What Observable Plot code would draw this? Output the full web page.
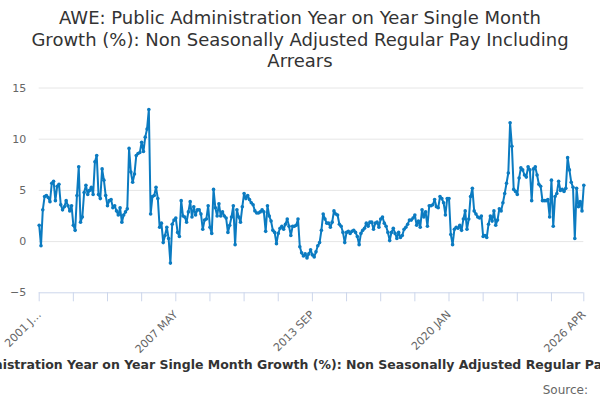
<!DOCTYPE html>
<html><head><meta charset="utf-8">
<script src="https://cdn.jsdelivr.net/npm/d3@7"></script>
<script src="https://cdn.jsdelivr.net/npm/@observablehq/plot@0.6"></script>
<style>
html,body{margin:0;padding:0;background:#fff}
body{width:600px;height:400px;overflow:hidden;position:relative;font-family:"DejaVu Sans",Verdana,sans-serif}
#title{position:absolute;top:7px;left:0;width:600px;text-align:center;font-size:18px;color:#333;line-height:21.5px}
#chart{position:absolute;top:70px;left:0}
#caption{position:absolute;top:357px;left:303px;transform:translateX(-50%);white-space:nowrap;font-weight:bold;font-size:12.5px;color:#333}
#source{position:absolute;top:383px;right:12px;font-size:12px;color:#666}
</style></head>
<body>
<div id="title"></div>
<div id="chart"></div>
<div id="caption"></div>
<div id="source"></div>
<script>
const titleLines = ["AWE: Public Administration Year on Year Single Month", "Growth (%): Non Seasonally Adjusted Regular Pay Including", "Arrears"];
const captionText = "AWE: Public Administration Year on Year Single Month Growth (%): Non Seasonally Adjusted Regular Pay Including Arrears";
const sourceText = "Source:";

// monthly values, 2001 Jan .. 2026 Apr (index 0..303)
const values = [
  1.6, -0.4, 3.1, 4.4, 4.5, 4.3, 3.9, 5.7, 5.9, 4.0,
  5.4, 5.6, 3.6, 3.1, 3.4, 4.0, 3.5, 3.0, 3.5, 1.6,
  1.1, 4.5, 7.3, 1.9, 2.4, 4.8, 5.5, 4.6, 5.0, 5.3,
  4.6, 7.8, 8.4, 4.6, 4.2, 7.1, 6.0, 4.5, 3.5, 4.0,
  4.1, 3.3, 3.5, 3.0, 2.6, 3.3, 1.9, 2.6, 2.9, 3.2,
  9.1, 6.8, 5.8, 6.6, 8.4, 8.6, 8.7, 9.7, 8.8, 10.2,
  11.0, 12.9, 2.7, 4.4, 4.5, 5.3, 4.2, 1.4, 1.8, -0.1,
  0.6, 1.4, 0.3, -2.1, 1.7, 2.1, 2.3, 0.9, 0.5, 4.0,
  2.5, 2.4, 1.9, 2.9, 3.9, 2.4, 3.4, 2.6, 3.1, 3.1,
  2.7, 1.2, 2.1, 2.2, 3.5, 1.4, 0.8, 5.1, 3.3, 2.5,
  3.7, 2.5, 2.9, 2.5, 2.3, 0.9, 1.6, 2.4, 3.5, -0.3,
  3.1, 2.4, 1.9, 3.4, 4.7, 4.2, 4.5, 4.1, 3.8, 3.6,
  3.0, 2.8, 2.8, 2.9, 3.1, 2.9, 1.0, 3.5, 2.5, 2.0,
  1.1, 0.9, -0.2, 0.8, 1.3, 1.5, 1.2, 1.7, 2.2, 1.5,
  0.6, 1.5, 1.5, 1.6, 2.2, -0.5, -1.1, -1.4, -1.2, -1.6,
  -1.2, -0.8, -1.3, -1.5, -1.0, -0.4, -0.1, 1.1, 2.7, 2.2,
  1.8, 1.8, 1.4, 1.9, 3.0, 2.7, 2.6, 1.7, 1.5, 0.9,
  -0.1, 0.9, 1.0, 0.8, 1.0, 1.1, 0.9, 0.5, -0.3, 0.8,
  1.1, 1.3, 1.8, 1.5, 1.9, 1.9, 1.2, 1.8, 1.9, 1.4,
  2.2, 2.4, 1.8, 1.5, 0.9, 0.1, 0.9, 1.3, 0.8, 0.3,
  0.9, 0.4, 0.6, 1.2, 1.4, 1.7, 2.1, 2.1, 2.3, 2.6,
  1.6, 2.0, 1.4, 3.1, 2.4, 2.9, 1.5, 3.5, 3.5, 3.6,
  4.1, 3.4, 3.3, 4.4, 4.2, 3.8, 2.6, 4.2, 4.2, 0.7,
  -0.3, 1.2, 1.4, 1.3, 1.6, 1.1, 2.2, 3.0, 1.2, 2.2,
  4.4, 5.2, 3.0, 2.7, 2.4, 2.3, 2.5, 0.5, 0.6, 0.4,
  1.7, 2.5, 2.0, 3.0, 1.6, 2.1, 3.2, 3.0, 3.8, 4.7,
  5.7, 6.7, 11.6, 9.3, 5.1, 4.9, 4.6, 6.2, 7.2, 7.0,
  6.5, 6.3, 7.3, 7.0, 4.0, 7.1, 7.3, 6.5, 5.6, 5.4,
  4.0, 4.0, 4.0, 4.1, 2.4, 6.0, 1.5, 4.4, 4.7, 5.9,
  5.0, 5.1, 4.9, 5.2, 8.2, 7.0, 5.8, 5.3, 0.3, 5.2,
  3.4, 3.9, 3.0, 5.5
];
const tickPositions = [0, 19, 38, 57, 76, 95, 114, 133, 152, 171, 190, 209, 228, 247, 266, 285, 303];
const labelPositions = [0, 76, 152, 228, 303];
const tickLabels = ["2001 J…", "2007 MAY", "2013 SEP", "2020 JAN", "2026 APR"];
const yTicks = [-5, 0, 5, 10, 15];

document.getElementById("title").innerHTML = titleLines.join("<br>");
document.getElementById("caption").textContent = captionText;
document.getElementById("source").textContent = sourceText;

const data = values.map((v, i) => ({i, v}));
const labelMap = new Map(labelPositions.map((p, k) => [p, tickLabels[k]]));
const color = "#0b7bc1";

const chart = Plot.plot({
  width: 600,
  height: 285,
  marginTop: 17.5,
  marginBottom: 62.7,
  marginLeft: 38.7,
  marginRight: 16.7,
  style: {fontFamily: "'DejaVu Sans', Verdana, sans-serif", fontSize: "11px", background: "transparent"},
  x: {type: "linear", domain: [0, 303]},
  y: {domain: [-5, 15]},
  marks: [
    Plot.gridY([0, 5, 10, 15], {stroke: "#e6e6e6", strokeOpacity: 1}),
    Plot.axisY(yTicks, {tickSize: 0, tickPadding: 13, fill: "#666", fontSize: 11, label: null}),
    Plot.axisX(tickPositions, {tickSize: 9, stroke: "#ccd6eb", strokeOpacity: 1, tickFormat: d => labelMap.get(d) || "", tickRotate: -45, tickPadding: 11, fill: "#666", fontSize: 11, label: null}),
    Plot.ruleY([-5], {stroke: "#ccd6eb"}),
    Plot.line(data, {x: "i", y: "v", stroke: color, strokeWidth: 2}),
    Plot.dot(data, {x: "i", y: "v", r: 1.8, fill: color, stroke: "none"})
  ]
});
document.getElementById("chart").appendChild(chart);
</script>
</body></html>
